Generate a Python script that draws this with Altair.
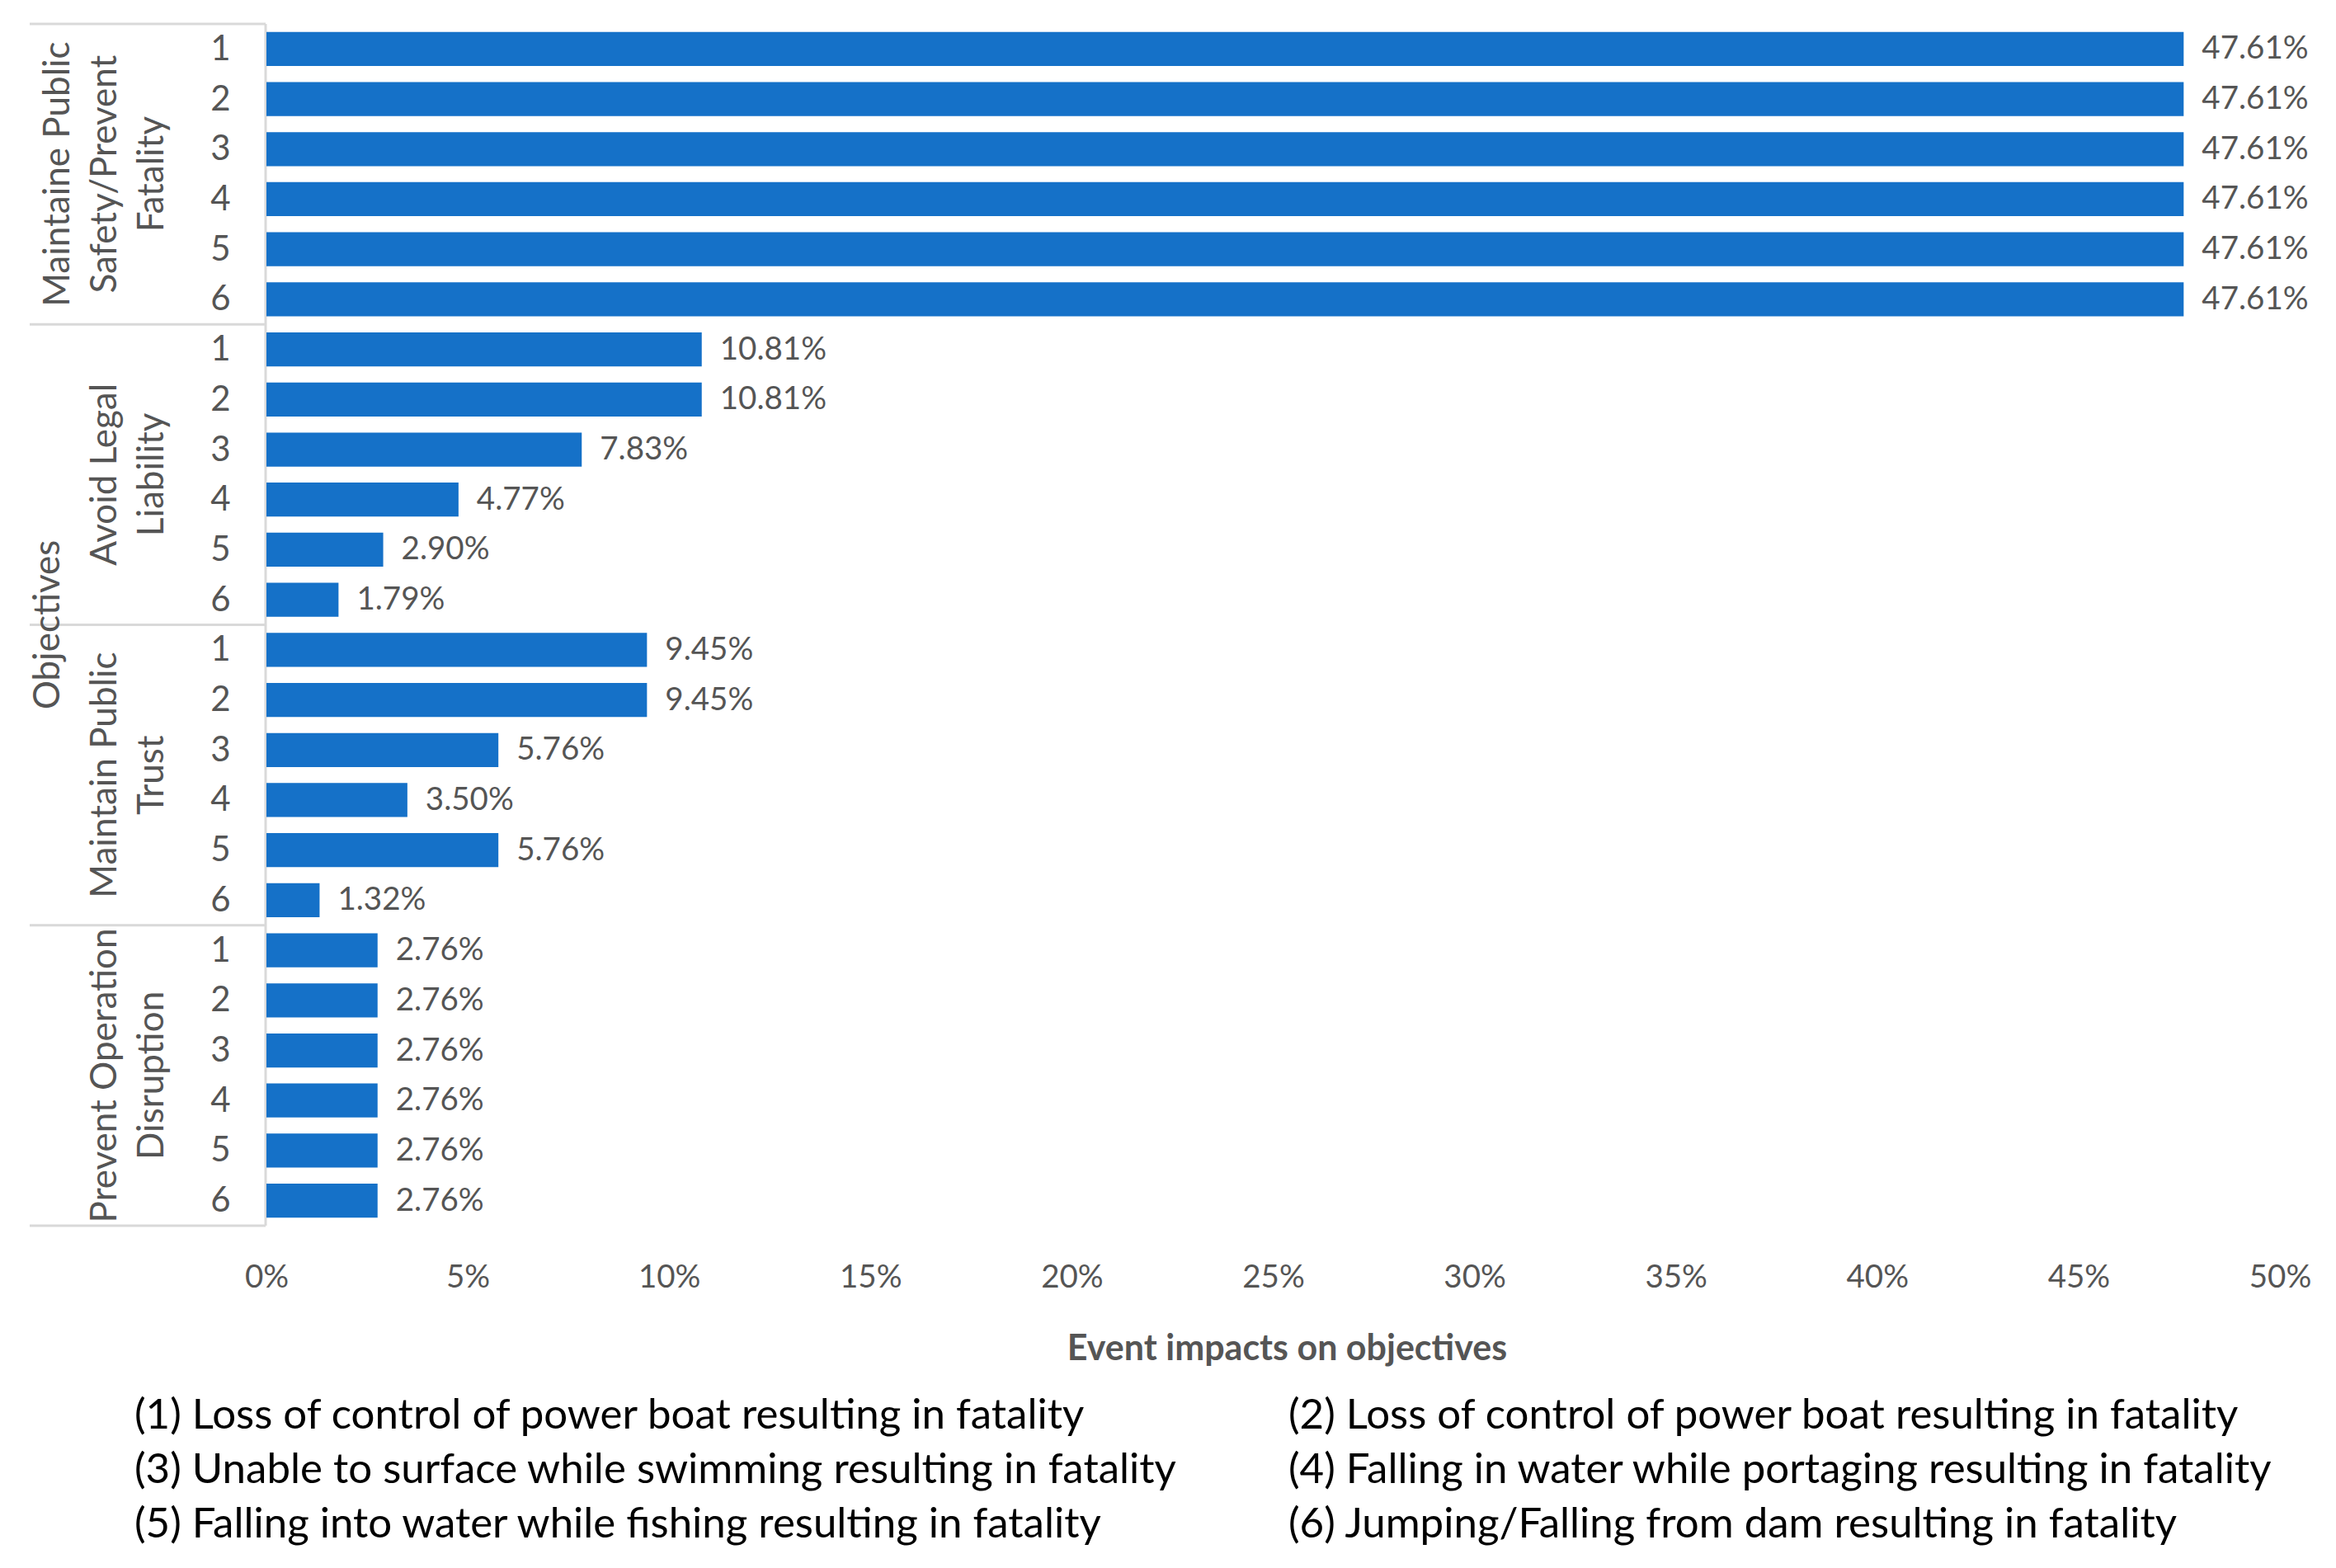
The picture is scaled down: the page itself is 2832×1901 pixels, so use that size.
import altair as alt
import pandas as pd

# ---------------- data ----------------
group_lines = [
    ["Maintaine Public", "Safety/Prevent", "Fatality"],
    ["Avoid Legal", "Liability"],
    ["Maintain Public", "Trust"],
    ["Prevent Operation", "Disruption"],
]
event_ids = [1, 2, 3, 4, 5, 6]
safety_values = [47.61, 47.61, 47.61, 47.61, 47.61, 47.61]
legal_values = [10.81, 10.81, 7.83, 4.77, 2.90, 1.79]
trust_values = [9.45, 9.45, 5.76, 3.50, 5.76, 1.32]
disruption_values = [2.76, 2.76, 2.76, 2.76, 2.76, 2.76]
x_ticks = [0, 0.05, 0.10, 0.15, 0.20, 0.25, 0.30, 0.35, 0.40, 0.45, 0.50]
axis_label_y = "Objectives"
axis_label_x = "Event impacts on objectives"
legend_left = [
    "(1) Loss of control of power boat resulting in fatality",
    "(3) Unable to surface while swimming resulting in fatality",
    "(5) Falling into water while fishing resulting in fatality",
]
legend_right = [
    "(2) Loss of control of power boat resulting in fatality",
    "(4) Falling in water while portaging resulting in fatality",
    "(6) Jumping/Falling from dam resulting in fatality",
]

# ---------------- tables ----------------
series = [safety_values, legal_values, trust_values, disruption_values]
n_per = len(event_ids)
rows = []
for gi, vals in enumerate(series):
    for ei, v in zip(event_ids, vals):
        r = gi * n_per + (ei - 1)
        rows.append({"row": r, "event": ei, "frac": v / 100.0,
                     "label": f"{v:.2f}%"})
bars_df = pd.DataFrame(rows)
n_rows = len(rows)

groups_df = pd.DataFrame([
    {"center": gi * n_per + (n_per - 1) / 2.0,
     "text": "\n".join(lines), "nlines": len(lines)}
    for gi, lines in enumerate(group_lines)
])
bounds_df = pd.DataFrame({"b": [gi * n_per - 0.5 for gi in range(len(series) + 1)]})
frame_df = pd.DataFrame({"top": [-0.5], "bottom": [n_rows - 0.5], "mid": [(n_rows - 1) / 2.0],
                         "title": [axis_label_y]})
legend_df = pd.DataFrame({"left": ["\n".join(legend_left)], "right": ["\n".join(legend_right)]})

# ---------------- styling ----------------
BLUE = "#1571C8"
GRAY = "#555555"
LINE = "#D9D9D9"
FONT = "Lato"
W, H = 2441, 1457

yscale = alt.Scale(domain=[-0.5, n_rows - 0.5], reverse=True, nice=False, zero=False)
xscale = alt.Scale(domain=[0, 0.5], nice=False)

bars = alt.Chart(bars_df).transform_calculate(
    zero="0", y0="datum.row - 0.34", y1="datum.row + 0.34"
).mark_rect(color=BLUE).encode(
    x=alt.X("zero:Q", scale=xscale,
            axis=alt.Axis(values=x_ticks, format=".0%", grid=False, domain=False,
                          ticks=False, tickSize=0, labelFontSize=38.5, labelColor=GRAY,
                          labelPadding=44, labelFont=FONT, labelFlush=False,
                          labelOverlap=False,
                          title=axis_label_x, titleFontSize=43, titleColor=GRAY,
                          titleFont=FONT, titleFontWeight="bold", titlePadding=47,
                          titleX=1237, titleAlign="center")),
    x2="frac:Q",
    y=alt.Y("y0:Q", scale=yscale,
            axis=alt.Axis(values=list(range(n_rows)),
                          labelExpr=f"'' + (datum.value % {n_per} + 1)",
                          grid=False, domain=False, ticks=False, tickSize=0,
                          labelFontSize=42, labelColor=GRAY, labelFont=FONT,
                          labelAlign="center", labelBaseline="middle",
                          labelPadding=56, labelFlush=False, labelOverlap=False,
                          title=None)),
    y2="y1:Q",
)

values = alt.Chart(bars_df).mark_text(
    align="left", baseline="middle", dx=22, fontSize=38.5, color=GRAY, font=FONT
).encode(
    x=alt.X("frac:Q", scale=xscale),
    y=alt.Y("row:Q", scale=yscale),
    text="label:N",
)

glabel_3 = alt.Chart(groups_df).transform_filter("datum.nlines == 3").mark_text(
    angle=270, align="center", baseline="middle", lineBreak="\n", lineHeight=57,
    fontSize=44, color=GRAY, font=FONT
).encode(x=alt.value(-252), y=alt.Y("center:Q", scale=yscale), text="text:N")

glabel_2 = alt.Chart(groups_df).transform_filter("datum.nlines == 2").mark_text(
    angle=270, align="center", baseline="middle", lineBreak="\n", lineHeight=57,
    fontSize=44, color=GRAY, font=FONT
).encode(x=alt.value(-195), y=alt.Y("center:Q", scale=yscale), text="text:N")

ytitle = alt.Chart(frame_df).mark_text(
    angle=270, align="center", baseline="middle", fontSize=44, color=GRAY, font=FONT
).encode(x=alt.value(-264), y=alt.Y("mid:Q", scale=yscale), text="title:N")

hlines = alt.Chart(bounds_df).mark_rule(color=LINE, strokeWidth=3).encode(
    y=alt.Y("b:Q", scale=yscale), x=alt.value(-287), x2=alt.value(-1)
)
vline = alt.Chart(frame_df).mark_rule(color=LINE, strokeWidth=3).encode(
    y=alt.Y("top:Q", scale=yscale), y2="bottom:Q", x=alt.value(-1)
)

leg_l = alt.Chart(legend_df).mark_text(
    align="left", baseline="middle", lineBreak="\n", lineHeight=66,
    fontSize=51, color="#000000", font=FONT
).encode(x=alt.value(-160), y=alt.value(1688), text="left:N")
leg_r = alt.Chart(legend_df).mark_text(
    align="left", baseline="middle", lineBreak="\n", lineHeight=66,
    fontSize=51, color="#000000", font=FONT
).encode(x=alt.value(1239), y=alt.value(1688), text="right:N")

chart = alt.layer(
    hlines, vline, bars, values, glabel_3, glabel_2, ytitle, leg_l, leg_r
).properties(
    width=W, height=H,
    autosize=alt.AutoSizeParams(type="none"),
    padding={"left": 315, "top": 21, "right": 60, "bottom": 402},
    background="white",
).configure(
    font=FONT,
    view=alt.ViewConfig(stroke=None),
)

chart.save("out.html", embed_options={"renderer": "svg", "actions": False})
